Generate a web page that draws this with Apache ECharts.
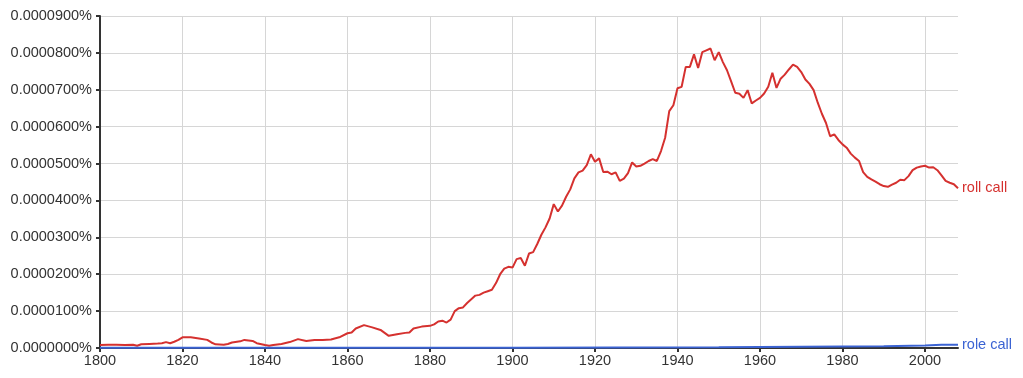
<!DOCTYPE html>
<html>
<head>
<meta charset="utf-8">
<script src="https://cdn.jsdelivr.net/npm/echarts@6/dist/echarts.min.js"></script>
<style>
html,body{margin:0;padding:0;background:#fff;}
#chart{width:1023px;height:378px;}
</style>
</head>
<body>
<div id="chart"></div>
<script>
// Values are in units of 0.000001 %
var rollYears = [1800,1802,1804,1806,1808,1809,1810,1812,1814,1815,1816,1817,1818,1819,1820,1822,1824,1826,1827,1828,1830,1831,1832,1834,1835,1837,1838,1840,1841,1842,1844,1846,1848,1850,1852,1854,1856,1858,1860,1861,1862,1864,1866,1868,1870,1872,1874,1875,1876,1878,1880,1881,1882,1883,1884,1885,1886,1887,1888,1889,1891,1892,1893,1894,1895,1896,1897,1898,1899,1900,1901,1902,1903,1904,1905,1906,1907,1908,1909,1910,1911,1912,1913,1914,1915,1916,1917,1918,1919,1920,1921,1922,1923,1924,1925,1926,1927,1928,1929,1930,1931,1932,1933,1934,1935,1936,1937,1938,1939,1940,1941,1942,1943,1944,1945,1946,1947,1948,1949,1950,1951,1952,1953,1954,1955,1956,1957,1958,1959,1960,1961,1962,1963,1964,1965,1966,1967,1968,1969,1970,1971,1972,1973,1974,1975,1976,1977,1978,1979,1980,1981,1982,1983,1984,1985,1986,1987,1988,1989,1990,1991,1992,1993,1994,1995,1996,1997,1998,1999,2000,2001,2002,2003,2004,2005,2006,2007,2008];
var rollValues = [0.8,0.9,0.9,0.8,0.9,0.6,1.0,1.1,1.2,1.3,1.6,1.3,1.7,2.2,2.9,2.9,2.6,2.2,1.5,1.0,0.9,1.1,1.5,1.8,2.2,1.9,1.3,0.8,0.6,0.8,1.1,1.6,2.4,1.9,2.2,2.2,2.3,2.9,4.0,4.2,5.3,6.2,5.6,4.9,3.3,3.7,4.1,4.2,5.3,5.8,6.0,6.4,7.2,7.4,6.9,7.7,10.0,10.8,11.0,12.2,14.2,14.4,15.0,15.4,15.8,17.6,20.0,21.5,22.0,21.8,24.1,24.4,22.3,25.6,26.0,28.2,30.7,32.7,35.1,39.0,37.0,38.6,41.0,43.0,46.0,47.6,48.1,49.6,52.5,50.5,51.4,47.7,47.8,47.1,47.6,45.3,45.9,47.4,50.3,49.2,49.4,50.0,50.7,51.2,50.7,53.4,57.0,64.2,65.8,70.4,70.8,76.2,76.2,79.6,75.9,80.2,80.7,81.2,78.0,80.2,77.5,75.3,72.3,69.2,68.9,67.8,69.9,66.3,67.1,67.8,69.0,70.8,74.6,70.5,73.0,74.1,75.5,76.8,76.2,74.8,72.8,71.6,69.9,66.5,63.5,61.0,57.4,57.9,56.4,55.2,54.3,52.7,51.6,50.7,47.7,46.4,45.7,45.1,44.4,43.9,43.7,44.3,44.8,45.6,45.5,46.6,48.2,48.9,49.2,49.4,48.9,49.0,48.2,46.8,45.3,44.8,44.4,43.3];
var roleYears = [1800,1850,1900,1950,1970,1990,2000,2004,2008];
var roleValues = [0.1,0.1,0.1,0.2,0.35,0.5,0.7,0.9,0.9];
var xTickLabels = [1800,1820,1840,1860,1880,1900,1920,1940,1960,1980,2000];
var seriesNames = ['roll call','role call'];

function zip(xs, ys){ return xs.map(function(x,i){ return [x, ys[i]]; }); }

var chart = echarts.init(document.getElementById('chart'), null, {renderer:'canvas'});
var font = 'Liberation Sans, Arial, Helvetica, sans-serif';
var red = '#d5312f', blue = '#3b63d3';
chart.setOption({
  animation:false,
  grid:{left:100,right:65,top:16,bottom:30,containLabel:false},
  xAxis:{
    type:'value', min:1800, max:2008, interval:20,
    axisLine:{show:true,lineStyle:{color:'#333',width:2}},
    axisTick:{show:true,length:4,lineStyle:{color:'#333',width:2},customValues:xTickLabels},
    axisLabel:{color:'#333',fontSize:14.5,fontFamily:font,margin:5,customValues:xTickLabels,formatter:function(v){return String(v);}},
    splitLine:{show:true,lineStyle:{color:'#d6d6d6',width:1}}
  },
  yAxis:{
    type:'value', min:0, max:90, interval:10,
    axisLine:{show:true,lineStyle:{color:'#333',width:2}},
    axisTick:{show:true,length:4,lineStyle:{color:'#333',width:2}},
    axisLabel:{color:'#333',fontSize:14.5,fontFamily:font,margin:8,formatter:function(v){return (v/1e6).toFixed(7)+'%';}},
    splitLine:{show:true,lineStyle:{color:'#d6d6d6',width:1}}
  },
  series:[
    {name:seriesNames[0],type:'line',data:zip(rollYears,rollValues),showSymbol:false,
     lineStyle:{color:red,width:2},itemStyle:{color:red},
     endLabel:{show:true,formatter:'{a}',color:red,fontSize:14.5,fontFamily:font,distance:4}},
    {name:seriesNames[1],type:'line',data:zip(roleYears,roleValues),showSymbol:false,
     lineStyle:{color:blue,width:2},itemStyle:{color:blue},
     endLabel:{show:true,formatter:'{a}',color:blue,fontSize:14.5,fontFamily:font,distance:4}}
  ]
});
</script>
</body>
</html>
